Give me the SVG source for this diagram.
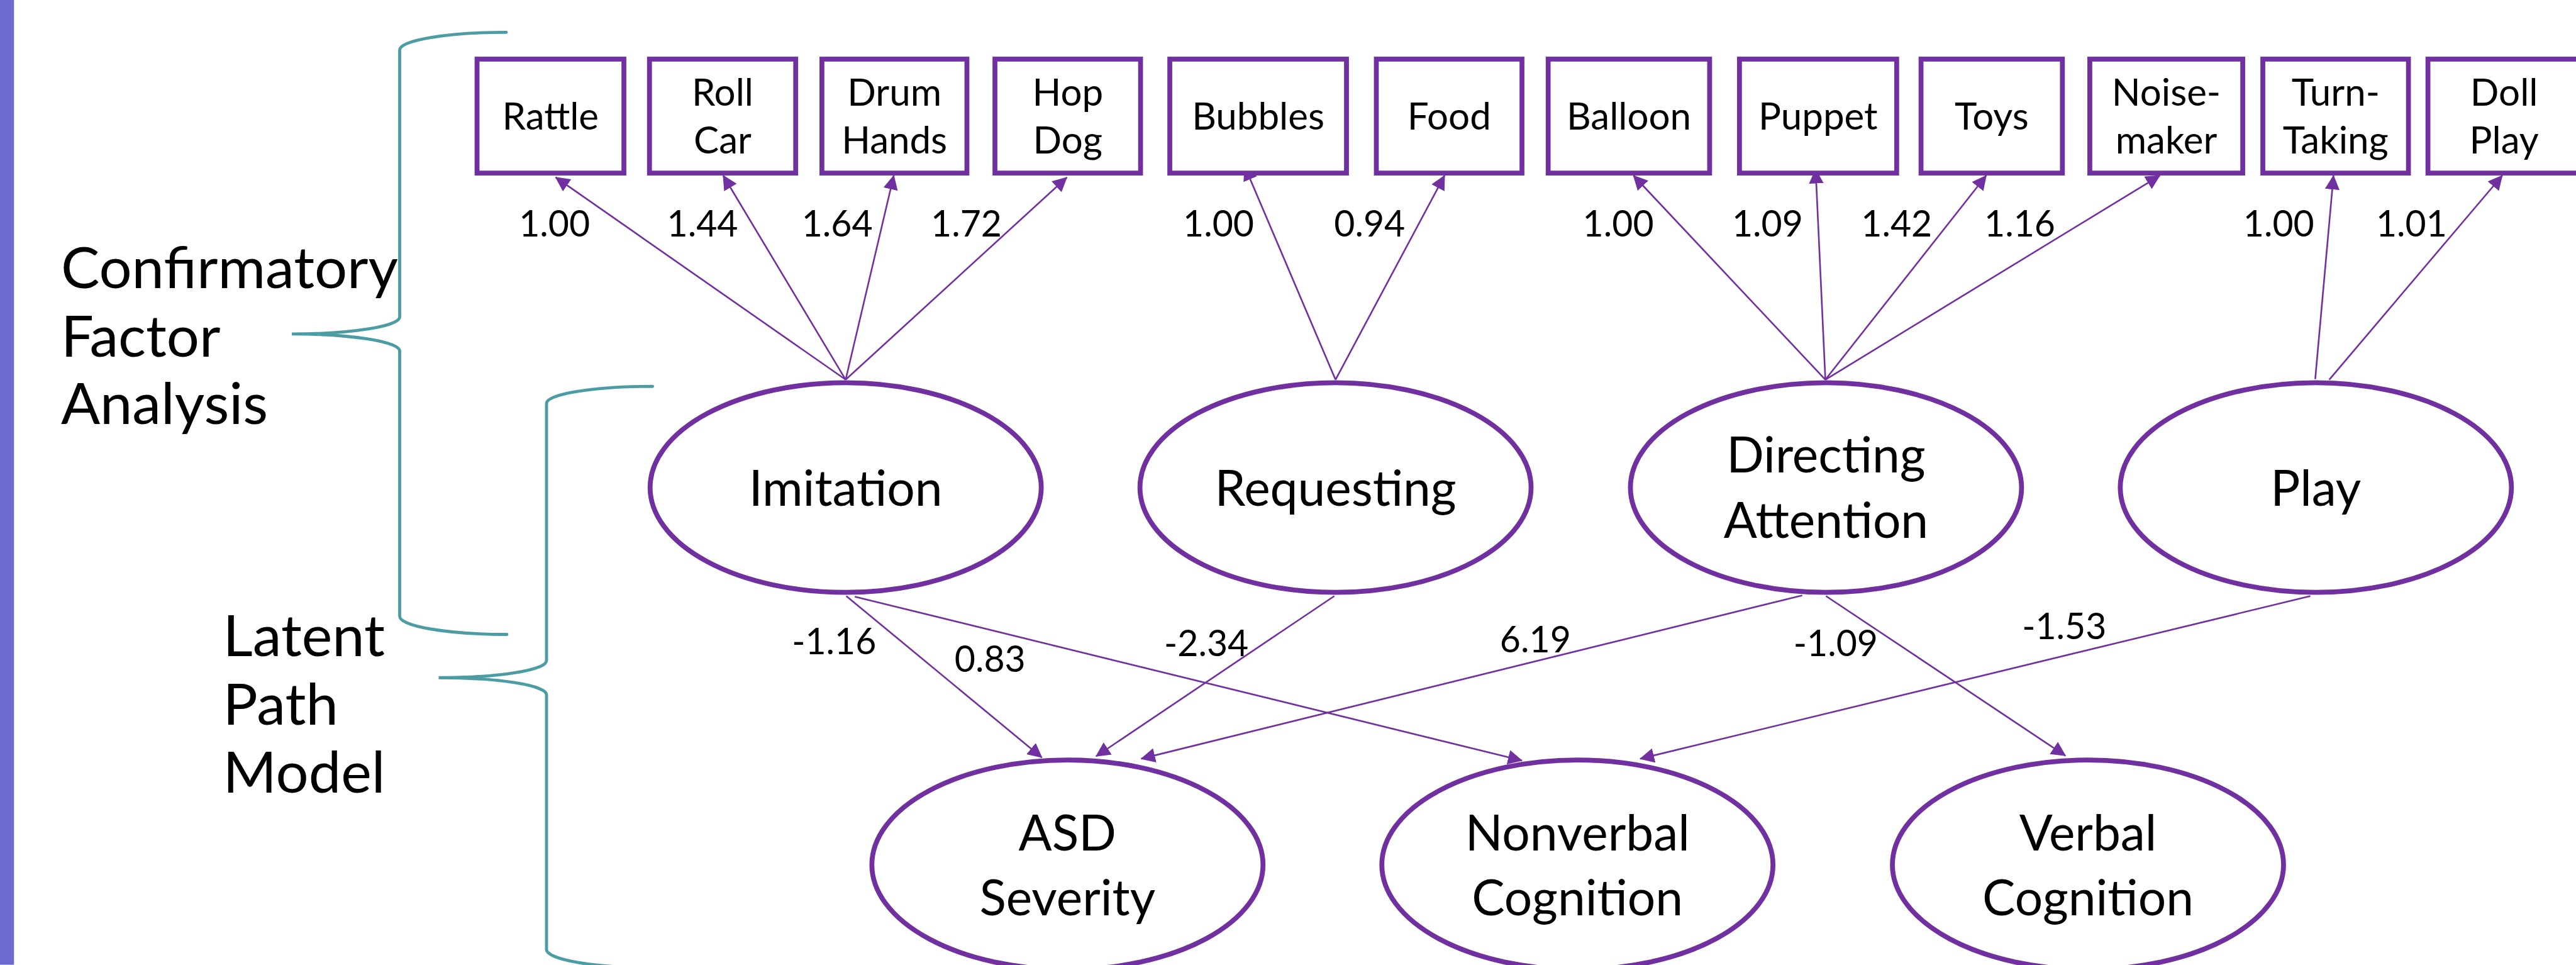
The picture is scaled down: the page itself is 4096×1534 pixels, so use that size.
<svg xmlns="http://www.w3.org/2000/svg" width="4096" height="1534" viewBox="0 0 4096 1534">
<style>
.box{fill:#fff;stroke:#7030A0;stroke-width:8}
.ell{fill:#fff;stroke:#7030A0;stroke-width:8}
.brace{fill:none;stroke:#4B9CA3;stroke-width:5;stroke-linecap:round}
.con{stroke:#7030A0;stroke-width:2.7;fill:none;marker-end:url(#ah)}
text{font-family:Lato,"Open Sans","Liberation Sans",sans-serif;fill:#000}
.bt{font-size:62px;text-anchor:middle}
.et{font-size:81px;text-anchor:middle}
.lb{font-size:59px;text-anchor:middle}
.big{font-size:95px}
</style>
<defs>
<marker id="ah" markerUnits="userSpaceOnUse" markerWidth="24" markerHeight="24" viewBox="0 0 22 22" refX="21" refY="11" orient="auto"><path d="M0,0 L22,11 L0,22 z" fill="#7030A0"/></marker>
</defs>
<rect width="4096" height="1534" fill="#fff"/>
<g transform="scale(0.96878)">
<rect x="0" y="0" width="23" height="1583" fill="#6B6BCF"/>
<g id="brace-cfa"><path class="brace" d="M831,53 A175,29 0 0 0 656,82 L656,520 A177,28 0 0 1 479,548 A177,28 0 0 1 656,576 L656,1011 A176,30 0 0 0 832,1041"/></g>
<g id="brace-lpm"><path class="brace" d="M1071,634 A174,28 0 0 0 897,662 L897,1084 A177,28 0 0 1 720,1112 A177,28 0 0 1 897,1140 L897,1558 A174,30 0 0 0 1071,1588"/></g>
<g id="title-cfa"><text class="big" x="100" y="473">Confirmatory</text><text class="big" x="100" y="585">Factor</text><text class="big" x="100" y="696">Analysis</text></g>
<g id="title-lpm"><text class="big" x="366" y="1077">Latent</text><text class="big" x="366" y="1189">Path</text><text class="big" x="366" y="1301">Model</text></g>

<g id="connectors">
<line class="con" x1="1388" y1="623" x2="912" y2="291"/>
<line class="con" x1="1388" y1="623" x2="1187" y2="288"/>
<line class="con" x1="1388" y1="623" x2="1467" y2="288"/>
<line class="con" x1="1388" y1="623" x2="1751" y2="291"/>
<line class="con" x1="2192" y1="623" x2="2043" y2="273"/>
<line class="con" x1="2192" y1="623" x2="2371" y2="288"/>
<line class="con" x1="2996" y1="623" x2="2681" y2="288"/>
<line class="con" x1="2996" y1="623" x2="2980" y2="278"/>
<line class="con" x1="2996" y1="623" x2="3260" y2="288"/>
<line class="con" x1="2996" y1="623" x2="3545" y2="288"/>
<line class="con" x1="3800" y1="622" x2="3830" y2="288"/>
<line class="con" x1="3823" y1="623" x2="4107" y2="288"/>
<line class="con" x1="1389" y1="978" x2="1710" y2="1243"/>
<line class="con" x1="1403" y1="979" x2="2498" y2="1248"/>
<line class="con" x1="2190" y1="978" x2="1799" y2="1241"/>
<line class="con" x1="2958" y1="977" x2="1873" y2="1245"/>
<line class="con" x1="2997" y1="978" x2="3390" y2="1240"/>
<line class="con" x1="3792" y1="978" x2="2692" y2="1245"/>
<text class="lb" x="910" y="388">1.00</text>
<text class="lb" x="1153" y="388">1.44</text>
<text class="lb" x="1374" y="388">1.64</text>
<text class="lb" x="1586" y="388">1.72</text>
<text class="lb" x="2000" y="388">1.00</text>
<text class="lb" x="2248" y="388">0.94</text>
<text class="lb" x="2656" y="388">1.00</text>
<text class="lb" x="2901" y="388">1.09</text>
<text class="lb" x="3113" y="388">1.42</text>
<text class="lb" x="3315" y="388">1.16</text>
<text class="lb" x="3740" y="388">1.00</text>
<text class="lb" x="3958" y="388">1.01</text>
<text class="lb" x="1369" y="1074">-1.16</text>
<text class="lb" x="1625" y="1102">0.83</text>
<text class="lb" x="1980" y="1077">-2.34</text>
<text class="lb" x="2520" y="1070">6.19</text>
<text class="lb" x="3013" y="1077">-1.09</text>
<text class="lb" x="3388" y="1049">-1.53</text>
</g>

<g id="rattle"><rect class="box" x="783" y="97" width="241" height="187"/><text class="bt" x="903.5" y="213">Rattle</text></g>
<g id="roll-car"><rect class="box" x="1066" y="97" width="240" height="187"/><text class="bt" x="1186" y="173">Roll</text><text class="bt" x="1186" y="252">Car</text></g>
<g id="drum-hands"><rect class="box" x="1349" y="97" width="238" height="187"/><text class="bt" x="1468" y="173">Drum</text><text class="bt" x="1468" y="252">Hands</text></g>
<g id="hop-dog"><rect class="box" x="1633" y="97" width="239" height="187"/><text class="bt" x="1752.5" y="173">Hop</text><text class="bt" x="1752.5" y="252">Dog</text></g>
<g id="bubbles"><rect class="box" x="1920" y="97" width="290" height="187"/><text class="bt" x="2065" y="213">Bubbles</text></g>
<g id="food"><rect class="box" x="2259" y="97" width="239" height="187"/><text class="bt" x="2378.5" y="213">Food</text></g>
<g id="balloon"><rect class="box" x="2541" y="97" width="265" height="187"/><text class="bt" x="2673.5" y="213">Balloon</text></g>
<g id="puppet"><rect class="box" x="2855" y="97" width="258" height="187"/><text class="bt" x="2984" y="213">Puppet</text></g>
<g id="toys"><rect class="box" x="3153" y="97" width="232" height="187"/><text class="bt" x="3269" y="213">Toys</text></g>
<g id="noise-maker"><rect class="box" x="3430" y="97" width="251" height="187"/><text class="bt" x="3555.5" y="173">Noise-</text><text class="bt" x="3555.5" y="252">maker</text></g>
<g id="turn-taking"><rect class="box" x="3714" y="97" width="239" height="187"/><text class="bt" x="3833.5" y="173">Turn-</text><text class="bt" x="3833.5" y="252">Taking</text></g>
<g id="doll-play"><rect class="box" x="3985" y="97" width="250" height="187"/><text class="bt" x="4110" y="173">Doll</text><text class="bt" x="4110" y="252">Play</text></g>

<g id="imitation"><ellipse class="ell" cx="1388" cy="800" rx="321" ry="172"/><text class="et" x="1388" y="830">Imitation</text></g>
<g id="requesting"><ellipse class="ell" cx="2192" cy="800" rx="321" ry="172"/><text class="et" x="2192" y="830">Requesting</text></g>
<g id="directing-attention"><ellipse class="ell" cx="2997" cy="800" rx="321" ry="172"/><text class="et" x="2997" y="775">Directing</text><text class="et" x="2997" y="883">Attention</text></g>
<g id="play"><ellipse class="ell" cx="3801" cy="800" rx="321" ry="172"/><text class="et" x="3801" y="830">Play</text></g>
<g id="asd-severity"><ellipse class="ell" cx="1752" cy="1419" rx="321" ry="172"/><text class="et" x="1752" y="1396">ASD</text><text class="et" x="1752" y="1502">Severity</text></g>
<g id="nonverbal-cognition"><ellipse class="ell" cx="2589" cy="1419" rx="321" ry="172"/><text class="et" x="2589" y="1396">Nonverbal</text><text class="et" x="2589" y="1502">Cognition</text></g>
<g id="verbal-cognition"><ellipse class="ell" cx="3427" cy="1419" rx="321" ry="172"/><text class="et" x="3427" y="1396">Verbal</text><text class="et" x="3427" y="1502">Cognition</text></g>
</g>
</svg>
